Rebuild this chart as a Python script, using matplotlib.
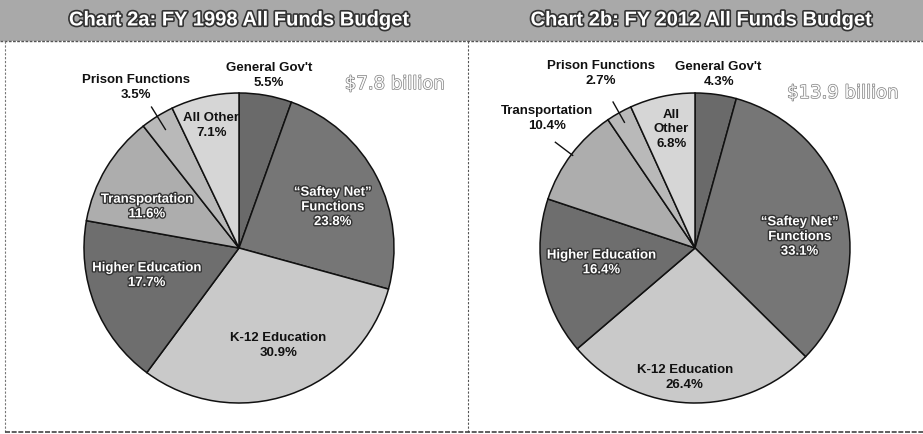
import matplotlib
matplotlib.use("Agg")
import matplotlib.pyplot as plt
import matplotlib.patheffects as pe
import numpy as np

# ---------------- data ----------------
categories = ["General Gov't", "\u201cSaftey Net\u201d\nFunctions", "K-12 Education",
              "Higher Education", "Transportation", "Prison Functions", "All Other"]
values_1998 = [5.5, 23.8, 30.9, 17.7, 11.6, 3.5, 7.1]
values_2012 = [4.3, 33.1, 26.4, 16.4, 10.4, 2.7, 6.8]
titles = ["Chart 2a: FY 1998 All Funds Budget", "Chart 2b: FY 2012 All Funds Budget"]
totals = ["$7.8 billion", "$13.9 billion"]

colors = ["#6a6a6a", "#767676", "#c9c9c9", "#6e6e6e", "#adadad", "#b9b9b9", "#d6d6d6"]

# label styling: (radial fraction, angle offset deg, white-outlined?, leader?)
label_cfg_1998 = {
    0: dict(f=1.13, dt=0, white=False, lines=["General Gov't"]),
    1: dict(f=0.66, dt=-4, white=True, lines=["\u201cSaftey Net\u201d", "Functions"]),
    2: dict(f=0.68, dt=3, white=False, lines=["K-12 Education"]),
    3: dict(f=0.62, dt=-5, white=True, lines=["Higher Education"]),
    4: dict(f=0.65, dt=7, white=True, lines=["Transportation"]),
    5: dict(f=1.23, dt=1, white=False, lines=["Prison Functions"], leader=(1.07, 0.9)),
    6: dict(f=0.81, dt=0, white=False, lines=["All Other"]),
}
label_cfg_2012 = {
    0: dict(f=1.13, dt=0, white=False, lines=["General Gov't"]),
    1: dict(f=0.68, dt=-9, white=True, lines=["\u201cSaftey Net\u201d", "Functions"]),
    2: dict(f=0.84, dt=-2.5, white=False, lines=["K-12 Education"]),
    3: dict(f=0.61, dt=-2, white=True, lines=["Higher Education"]),
    4: dict(f=1.27, dt=-4, white=False, lines=["Transportation"], leader=(1.13, 0.99)),
    5: dict(f=1.28, dt=-1, white=False, lines=["Prison Functions"], leader=(1.08, 0.93)),
    6: dict(f=0.78, dt=-1, white=False, lines=["All", "Other"]),
}

W, H = 923, 434
fig = plt.figure(figsize=(W / 100, H / 100), dpi=100)
ax = fig.add_axes([0, 0, 1, 1])
ax.set_xlim(0, W)
ax.set_ylim(0, H)
ax.axis("off")

def Y(py):
    return H - py

FONT = "Liberation Sans"

# banner
ax.add_patch(plt.Rectangle((0, Y(41)), W, 41, facecolor="#a9a9a9", edgecolor="none", zorder=1))
ax.plot([0, W], [Y(41), Y(41)], color="#555555", lw=1.0, ls=(0, (2, 1)), zorder=2)
# panel borders
ax.plot([5, 5], [Y(41), Y(432)], color="#777777", lw=0.8, ls=(0, (2, 1.5)), zorder=2)
ax.plot([468, 468], [Y(41), Y(432)], color="#555555", lw=0.8, ls=(0, (2, 1.5)), zorder=2)
ax.plot([5, W], [Y(432), Y(432)], color="#444444", lw=1.2, ls=(0, (3, 1)), zorder=2)

title_x = [239, 701]
total_pos = [(395, 84), (843, 93)]
centers = [(239, 248), (695, 248)]
radius = 155
outline = [pe.withStroke(linewidth=2.4, foreground="#333333")]
white_outline = [pe.withStroke(linewidth=2.0, foreground="#333333")]

for i, (vals, cfg) in enumerate([(values_1998, label_cfg_1998), (values_2012, label_cfg_2012)]):
    ax.text(title_x[i], Y(20), titles[i], ha="center", va="center", fontsize=14.5,
            fontweight="bold", color="white", family=FONT, path_effects=outline, zorder=5)
    ax.text(total_pos[i][0], Y(total_pos[i][1]), totals[i], ha="center", va="center",
            fontsize=13, color="#fafafa", family="DejaVu Sans",
            path_effects=[pe.withStroke(linewidth=1.0, foreground="#808080")], zorder=5)
    cx, cy = centers[i]
    wedges, _ = ax.pie(vals, colors=colors, startangle=90, counterclock=False,
                       center=(cx, Y(cy)), radius=radius, frame=True,
                       wedgeprops=dict(edgecolor="#111111", linewidth=1.1))
    for k, w in enumerate(wedges):
        c = cfg[k]
        mid = np.deg2rad((w.theta1 + w.theta2) / 2 + c["dt"])
        tx = cx + radius * c["f"] * np.cos(mid)
        ty = Y(cy) + radius * c["f"] * np.sin(mid)
        txt = "\n".join(c["lines"] + [f"{vals[k]:.1f}%"])
        if c["white"]:
            ax.text(tx, ty, txt, ha="center", va="center", fontsize=9.5, fontweight="bold",
                    color="white", family=FONT, linespacing=1.3,
                    path_effects=white_outline, zorder=6)
        else:
            ax.text(tx, ty, txt, ha="center", va="center", fontsize=9.5, fontweight="bold",
                    color="#111111", family=FONT, linespacing=1.3, zorder=6)
        if "leader" in c:
            r0, r1 = c["leader"]
            m0 = np.deg2rad((w.theta1 + w.theta2) / 2)
            ax.plot([cx + radius * r0 * np.cos(m0), cx + radius * r1 * np.cos(m0)],
                    [Y(cy) + radius * r0 * np.sin(m0), Y(cy) + radius * r1 * np.sin(m0)],
                    color="#111111", lw=1.0, zorder=6)

ax.set_xlim(0, W)
ax.set_ylim(0, H)
ax.set_aspect("auto")
fig.savefig("out.png", dpi=100, facecolor="white")
